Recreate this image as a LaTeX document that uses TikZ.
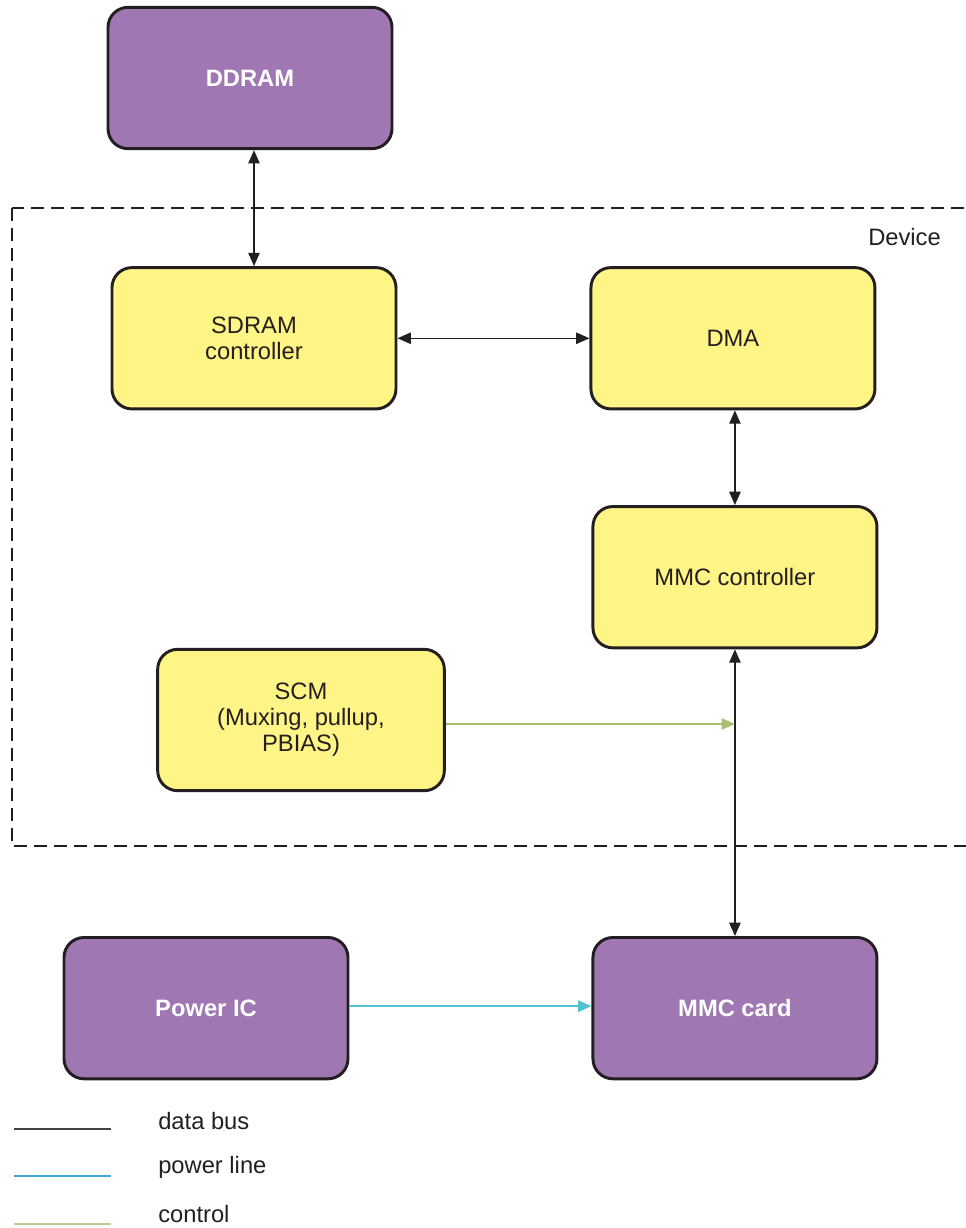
\documentclass[tikz,border=0pt]{standalone}
\usepackage{fontspec}
\setmainfont{Liberation Sans}
\usepackage{xcolor}
\definecolor{chipfill}{HTML}{9E77B3}
\definecolor{blockfill}{HTML}{FFF486}
\definecolor{ink}{HTML}{231F20}
\definecolor{powercol}{HTML}{4FC2D0}
\definecolor{powerleg}{HTML}{3AA6DC}
\definecolor{ctrlcol}{HTML}{A9C073}
\usetikzlibrary{arrows.meta,positioning}

\begin{document}
\begin{tikzpicture}[
        x=0.75pt, y=-0.75pt,
        font=\fontsize{17.8}{19.5}\selectfont,
        % box styles
        base/.style={rectangle, draw=ink, line width=2.2pt, rounded corners=15pt, align=center, minimum width=213pt, minimum height=106pt},
        chip/.style={base, fill=chipfill, text=white, font=\fontsize{17.8}{19.5}\selectfont\bfseries},
        block/.style={base, fill=blockfill, text=ink},
        device/.style={draw=ink, line width=1.5pt, dash pattern=on 9.75pt off 5.25pt},
        bus/.style={<->, line width=1.1pt, draw=ink, >={Triangle[length=10pt,width=8.5pt]}},
        power/.style={->, line width=1.3pt, draw=powercol, >={Triangle[length=10pt,width=8.5pt]}},
        ctrl/.style={->, line width=1.3pt, draw=ctrlcol, >={Triangle[length=10pt,width=8.5pt]}},
        legend/.style={anchor=base west, inner sep=0pt, text=ink}
    ]
    \useasboundingbox (0,0) rectangle (965,1228);

    % Device area (runs past the right edge)
    \draw[device] (12,208) rectangle (1000,846);
    \node[anchor=base west, inner sep=0pt, text=ink] (devlabel) at (868,245) {Device};

    % Blocks
    \node[chip] (ddram) at (250,78) {DDRAM};
    \node[block, below=87pt of ddram, xshift=3pt] (sdram) {SDRAM\\controller};
    \node[block, right=144pt of sdram] (dma) {DMA};
    \node[block, below=71pt of dma, xshift=1.5pt] (mmcctrl) {MMC controller};
    \node[block, minimum width=215pt] (scm) at (301,720) {SCM\\(Muxing, pullup,\\PBIAS)};
    \node[chip, below=215pt of mmcctrl] (mmccard) {MMC card};
    \node[chip, left=181.5pt of mmccard] (poweric) {Power IC};

    % Connections
    \draw[bus] (ddram.south -| sdram.north) -- (sdram.north);
    \draw[bus] (sdram) -- (dma);
    \draw[bus] (dma.south -| mmcctrl.north) -- (mmcctrl.north);
    \draw[bus] (mmcctrl) -- (mmccard);
    \coordinate (ctrl_start) at ([yshift=-3pt]scm.east);
    \coordinate (ctrl_end) at (ctrl_start -| mmcctrl.south);
    \draw[ctrl] (ctrl_start) -- (ctrl_end);
    \draw[power] ([yshift=1.5pt]poweric.east) -- ([yshift=1.5pt]mmccard.west);

    % Legend
    \draw[line width=1.1pt, draw=ink!85] (14,1129) -- (111,1129);
    \draw[line width=1.1pt, draw=powerleg] (14,1176) -- (111,1176);
    \draw[line width=1.1pt, draw=ctrlcol!80] (14,1224) -- (111,1224);
    \node[legend] (legbus) at (158,1129) {data bus};
    \node[legend] (legpower) at (158,1173) {power line};
    \node[legend] (legctrl) at (158,1222) {control};

\end{tikzpicture}
\end{document}
